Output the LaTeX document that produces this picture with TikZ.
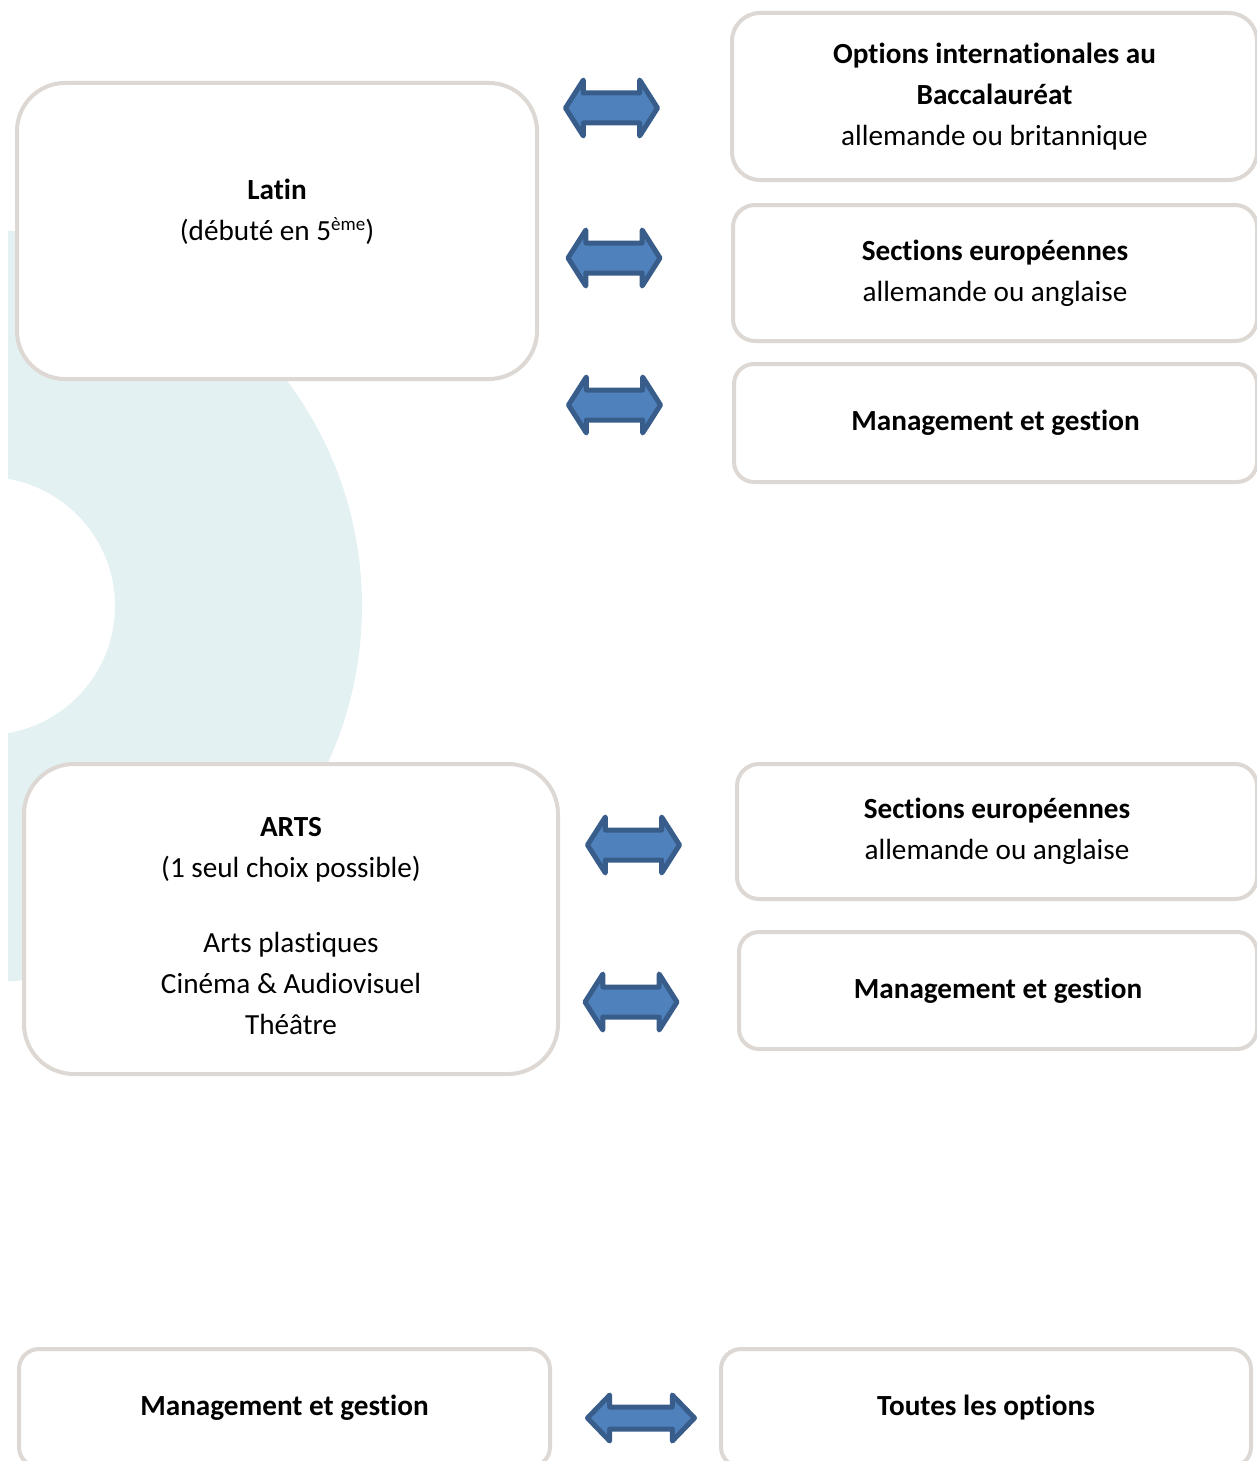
\documentclass[tikz,border=0pt]{standalone}
\usepackage{fontspec}
\setmainfont{Carlito}[Ligatures = {NoCommon, NoContextual}, Contextuals = NoAlternate]
\usetikzlibrary{shapes.arrows}

\definecolor{boxline}{RGB}{221,216,211}
\definecolor{ringcyan}{RGB}{227,241,242}
\definecolor{arrowfill}{RGB}{79,129,189}
\definecolor{arrowline}{RGB}{56,93,138}

\newcommand{\smallsup}[1]{\raisebox{0.75ex}{\fontsize{9.5pt}{9.5pt}\selectfont #1}}

\tikzset{
	optbox/.style = {draw = boxline, line width = 2pt, fill = white, align = center,
		inner sep = 0pt, font = \fontsize{14.6pt}{20.5pt}\selectfont},
	biarrow/.style = {double arrow, draw = arrowline, fill = arrowfill, line width = 2.5pt,
		line join = round, inner sep = 0pt, text height = 12.5pt, text depth = 0pt,
		minimum height = 46pt, minimum width = 25.5pt,
		double arrow head extend = 6.5pt, double arrow tip angle = 115}
}

\begin{document}
\begin{tikzpicture}[x = 0.5pt, y = -0.5pt]
	\useasboundingbox (0,0) rectangle (1257,1461);
	\clip (0,0) rectangle (1257,1461);
	% background ring
	\begin{scope}
		\clip (8,0) rectangle (1257,1461);
		\fill[ringcyan, even odd rule] (-14,606) circle (188pt) (-14,606) circle (64.5pt);
	\end{scope}
	% left column
	\node[optbox, rounded corners = 24pt, minimum width = 260pt, minimum height = 148pt] (latin) at (277,231)
		{\textbf{Latin}\\(débuté en 5\smallsup{ème})\\[-5.5pt]\strut};
	\node[optbox, rounded corners = 25pt, minimum width = 267pt, minimum height = 155pt] (arts) at (291,919)
		{\rule{0pt}{17pt}\textbf{ARTS}\\(1 seul choix possible)\\[17pt]Arts plastiques\\Cinéma \& Audiovisuel\\Théâtre};
	\node[optbox, rounded corners = 10pt, minimum width = 265.5pt, minimum height = 59pt] (mgtC) at (284.5,1408)
		{\textbf{Management et gestion}};
	% right column
	\node[optbox, rounded corners = 14pt, minimum width = 262.5pt, minimum height = 83.5pt] (intl) at (994.5,96.5)
		{\textbf{Options internationales au}\\\textbf{Baccalauréat}\\allemande ou britannique};
	\node[optbox, rounded corners = 11pt, minimum width = 262pt, minimum height = 68pt] (euroA) at (995,273)
		{\textbf{Sections européennes}\\allemande ou anglaise};
	\node[optbox, rounded corners = 10pt, minimum width = 261.5pt, minimum height = 59pt] (mgtA) at (995.5,423)
		{\textbf{Management et gestion}};
	\node[optbox, rounded corners = 11pt, minimum width = 260pt, minimum height = 67.5pt] (euroB) at (997,831.5)
		{\textbf{Sections européennes}\\allemande ou anglaise};
	\node[optbox, rounded corners = 10pt, minimum width = 259pt, minimum height = 58.5pt] (mgtB) at (998,990.5)
		{\textbf{Management et gestion}};
	\node[optbox, rounded corners = 10pt, minimum width = 265pt, minimum height = 59pt] (allopt) at (986,1408)
		{\textbf{Toutes les options}};
	% double arrows
	\node[biarrow] (arA) at (611.5,108) {};
	\node[biarrow] (arB) at (614,258) {};
	\node[biarrow] (arC) at (614.5,405) {};
	\node[biarrow] (arD) at (633.5,845) {};
	\node[biarrow] (arE) at (631,1002) {};
	\node[biarrow, text height = 8.5pt, minimum height = 53.5pt, minimum width = 20.5pt,
		double arrow head extend = 6pt, double arrow tip angle = 92] (arF) at (641,1418) {};
\end{tikzpicture}
\end{document}
